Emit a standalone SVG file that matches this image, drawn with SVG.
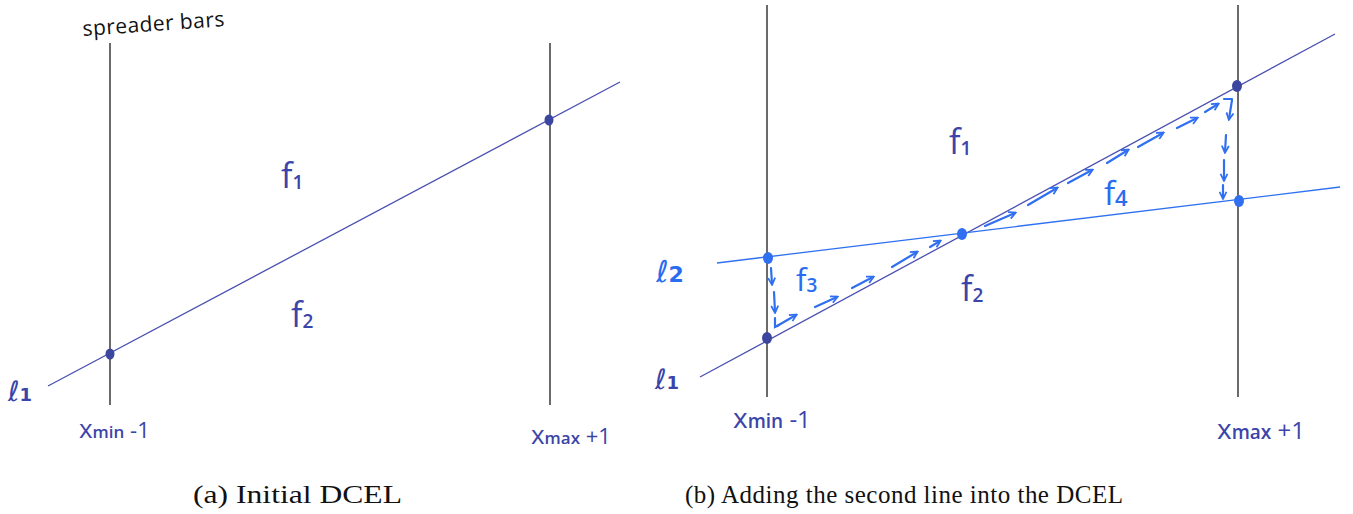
<svg xmlns="http://www.w3.org/2000/svg" width="1353" height="514" viewBox="0 0 1353 514">
<defs>
<style>
.bar{stroke:#2b2b2b;stroke-width:1.4;fill:none}
.l1{stroke:#4a50b0;stroke-width:1.3;fill:none}
.l2{stroke:#2f72f0;stroke-width:1.3;fill:none}
.d1{fill:#3d469e}
.d2{fill:#2f6ff0}
.hw{font-family:"Open Sans","DejaVu Sans",sans-serif;font-weight:600}
.ell{font-family:"DejaVu Sans",sans-serif;font-style:italic;font-weight:400}
.dk{fill:#3b44a8}
.lt{fill:#2a6cf0}
.cap{font-family:"Liberation Serif","Times New Roman",serif;font-size:25px;fill:#111}
.ha{stroke:#2f6ff0;stroke-width:2.2;fill:none;stroke-linecap:round;marker-end:url(#ah)}
.hs{stroke:#2f6ff0;stroke-width:2.2;fill:none;stroke-linecap:round}
</style>
<marker id="ah" viewBox="0 0 10 10" refX="8" refY="5" markerWidth="4" markerHeight="4" orient="auto">
<path d="M1,1 L9,5 L1,9" fill="none" stroke="#2f6ff0" stroke-width="2"/>
</marker>
</defs>

<rect width="1353" height="514" fill="#ffffff"/>

<g id="panel-a">
  <g id="a-bars">
    <line class="bar" x1="110" y1="43" x2="110" y2="405"/>
    <line class="bar" x1="550" y1="43" x2="550" y2="405"/>
  </g>
  <g id="a-l1"><line class="l1" x1="48" y1="386" x2="620" y2="82"/></g>
  <g id="a-dots">
    <ellipse class="d1" cx="110" cy="354" rx="4.5" ry="5.5"/>
    <ellipse class="d1" cx="549" cy="120" rx="4.5" ry="5.5"/>
  </g>
  <g id="a-labels" class="hw">
    <text x="83" y="36" font-size="21" font-weight="400" fill="#111" textLength="142" transform="rotate(-4 83 36)">spreader bars</text>
    <text x="8" y="401" font-size="28" class="dk ell">ℓ<tspan font-size="18" font-style="normal" font-weight="600">1</tspan></text>
    <text x="281" y="188" font-size="34" font-weight="400" class="dk">f<tspan font-size="19" font-weight="600" dy="1">1</tspan></text>
    <text x="291" y="327" font-size="34" font-weight="400" class="dk">f<tspan font-size="19" font-weight="600" dy="1">2</tspan></text>
    <text x="79" y="438" font-size="26" font-weight="400" class="dk">x<tspan font-size="17" font-weight="600">min</tspan><tspan font-size="22"> -1</tspan></text>
    <text x="531" y="444" font-size="26" font-weight="400" class="dk">x<tspan font-size="17" font-weight="600">max</tspan><tspan font-size="22"> +1</tspan></text>
  </g>
  <text class="cap" x="193" y="503" textLength="209" lengthAdjust="spacingAndGlyphs">(a) Initial DCEL</text>
</g>

<g id="panel-b">
  <g id="b-bars">
    <line class="bar" x1="767" y1="5" x2="767" y2="397"/>
    <line class="bar" x1="1238" y1="5" x2="1238" y2="397"/>
  </g>
  <g id="b-lines">
    <line class="l1" x1="700" y1="377" x2="1335" y2="34"/>
    <line class="l2" x1="717" y1="263" x2="1340" y2="187"/>
  </g>
  <g id="b-halfedges">
    <line class="ha" x1="771" y1="268" x2="772" y2="284"/>
    <line class="ha" x1="774" y1="292" x2="775" y2="312"/>
    <polyline class="hs" points="775,318 775,327 779,325"/>
    <line class="ha" x1="777" y1="326" x2="796" y2="315"/>
    <line class="ha" x1="815" y1="307" x2="837" y2="297"/>
    <line class="ha" x1="852" y1="288" x2="873" y2="277"/>
    <line class="ha" x1="892" y1="267" x2="917" y2="252"/>
    <line class="ha" x1="930" y1="247" x2="940" y2="241"/>
    <line class="ha" x1="985" y1="226" x2="1015" y2="213"/>
    <line class="ha" x1="1028" y1="205" x2="1057" y2="188"/>
    <line class="ha" x1="1068" y1="183" x2="1092" y2="170"/>
    <line class="ha" x1="1107" y1="163" x2="1128" y2="150"/>
    <line class="ha" x1="1138" y1="147" x2="1163" y2="133"/>
    <line class="ha" x1="1177" y1="128" x2="1197" y2="118"/>
    <line class="ha" x1="1205" y1="112" x2="1218" y2="104"/>
    <polyline class="hs" points="1224,99 1232,99"/>
    <line class="ha" x1="1232" y1="100" x2="1229" y2="119"/>
    <line class="ha" x1="1226" y1="135" x2="1225" y2="152"/>
    <line class="ha" x1="1224" y1="160" x2="1224" y2="180"/>
    <line class="ha" x1="1223" y1="185" x2="1223" y2="198"/>
  </g>
  <g id="b-dots">
    <ellipse class="d2" cx="768" cy="258" rx="5" ry="6"/>
    <ellipse class="d1" cx="767" cy="338" rx="5" ry="6"/>
    <ellipse class="d2" cx="962" cy="234" rx="5" ry="6"/>
    <ellipse class="d1" cx="1237" cy="86" rx="5" ry="6"/>
    <ellipse class="d2" cx="1239" cy="201" rx="5" ry="6"/>
  </g>
  <g id="b-labels" class="hw">
    <text x="656" y="282" font-size="30" class="lt ell">ℓ<tspan font-size="22" font-style="normal" font-weight="600">2</tspan></text>
    <text x="655" y="389" font-size="28" class="dk ell">ℓ<tspan font-size="18" font-style="normal" font-weight="600">1</tspan></text>
    <text x="949" y="154" font-size="34" font-weight="400" class="dk">f<tspan font-size="19" font-weight="600" dy="1">1</tspan></text>
    <text x="961" y="301" font-size="34" font-weight="400" class="dk">f<tspan font-size="19" font-weight="600" dy="1">2</tspan></text>
    <text x="796" y="291" font-size="31" font-weight="400" class="lt">f<tspan font-size="19" font-weight="600" dy="1">3</tspan></text>
    <text x="1104" y="205" font-size="33" font-weight="400" class="lt">f<tspan font-size="22" font-weight="600" dy="1">4</tspan></text>
    <text x="733" y="428" font-size="28" font-weight="400" class="dk">x<tspan font-size="19" font-weight="600">min</tspan><tspan font-size="24"> -1</tspan></text>
    <text x="1217" y="439" font-size="28" font-weight="400" class="dk">x<tspan font-size="19" font-weight="600">max</tspan><tspan font-size="24"> +1</tspan></text>
  </g>
  <text class="cap" x="685" y="503" textLength="438">(b) Adding the second line into the DCEL</text>
</g>
</svg>
